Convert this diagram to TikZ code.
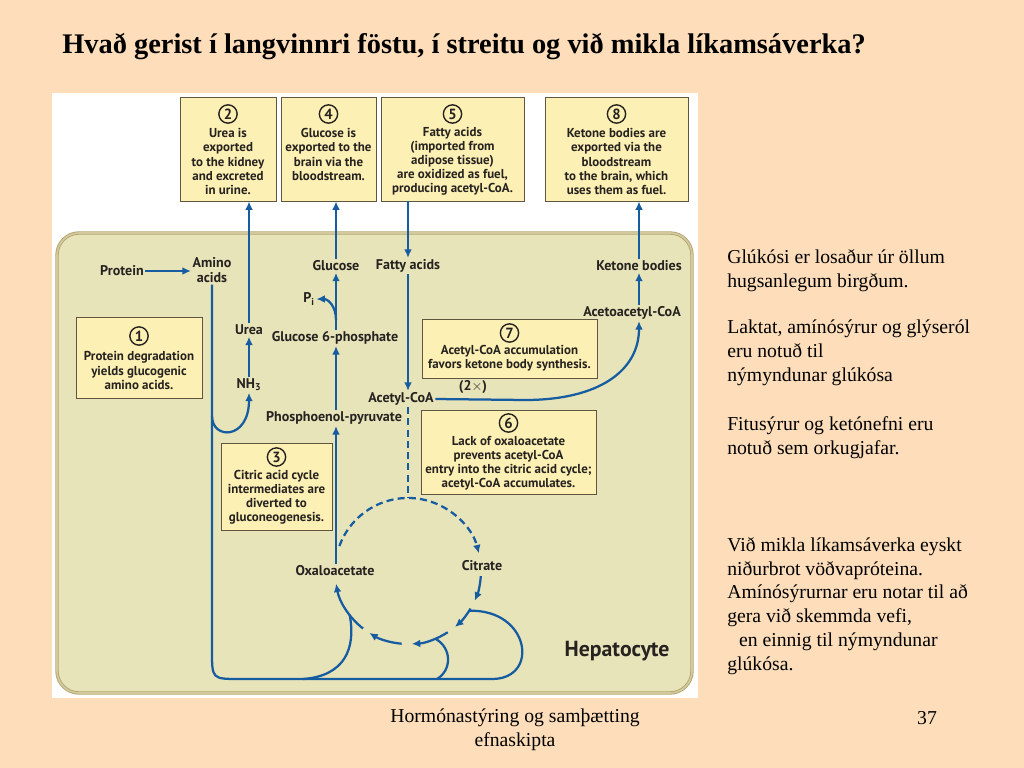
\documentclass[tikz,border=0pt]{standalone}
\usepackage{fontspec}
\setmainfont{Liberation Serif}
\newfontfamily\diafont{PT Sans}
\usetikzlibrary{arrows.meta,positioning,calc}
\definecolor{slidePeach}{RGB}{253,221,186}
\definecolor{cellFill}{RGB}{232,228,186}
\definecolor{cellEdge}{RGB}{178,163,112}
\definecolor{noteFill}{RGB}{253,240,180}
\definecolor{noteEdge}{RGB}{95,85,65}
\definecolor{pathBlue}{RGB}{22,92,160}
\definecolor{inkDark}{RGB}{38,34,32}

\tikzset{
  metab/.style={font=\diafont\bfseries\fontsize{10}{11}\selectfont, text=inkDark, inner sep=1pt, align=center},
  notebox/.style={draw=noteEdge, fill=noteFill, line width=0.6pt, inner sep=0pt},
  notetext/.style={font=\diafont\bfseries\fontsize{9.2}{10}\selectfont, text=inkDark, align=center, inner sep=0pt},
  stepnum/.style={draw=inkDark, circle, line width=1pt, inner sep=0pt, minimum size=13pt,
    font=\diafont\bfseries\fontsize{10.5}{11}\selectfont, text=inkDark},
  flow/.style={draw=pathBlue, line width=1.6pt, -{Latex[length=6pt,width=5.5pt]}},
  flowline/.style={draw=pathBlue, line width=1.6pt},
  slidetext/.style={font=\fontsize{14}{17}\selectfont, align=left, anchor=north west, inner sep=0pt},
}

\begin{document}
\begin{tikzpicture}[x=0.025cm,y=-0.025cm]
  \useasboundingbox (0,0) rectangle (1024,768);
  \fill[slidePeach] (0,0) rectangle (1024,768);
  \fill[white] (52,93) rectangle (698,698);

  \node[anchor=west, inner sep=0pt, font=\bfseries\fontsize{20.2}{22}\selectfont] (title) at (62,47)
    {Hvað gerist í langvinnri föstu, í streitu og við mikla líkamsáverka?};

  % the cell
  \node[draw=cellEdge, fill=cellFill, line width=0.6pt, double=cellFill!60!cellEdge, double distance=1.2pt,
    rounded corners=0.55cm, minimum width=635*0.025cm, minimum height=460*0.025cm] (cell) at (374.5,463) {};

  % numbered notes
  \node[notebox, minimum width=96*0.025cm, minimum height=104*0.025cm] (box2) at (228,149) {};
  \node[notebox, minimum width=95*0.025cm, minimum height=104*0.025cm] (box4) at (328.5,149) {};
  \node[notebox, minimum width=143*0.025cm, minimum height=104*0.025cm] (box5) at (452.5,149) {};
  \node[notebox, minimum width=143*0.025cm, minimum height=104*0.025cm] (box8) at (616.5,149) {};
  \node[notebox, minimum width=126*0.025cm, minimum height=81*0.025cm] (box1) at (139,357.5) {};
  \node[notebox, minimum width=175*0.025cm, minimum height=59*0.025cm] (box7) at (509.5,348.5) {};
  \node[notebox, minimum width=175*0.025cm, minimum height=84*0.025cm] (box6) at (508.5,452) {};
  \node[notebox, minimum width=111*0.025cm, minimum height=87*0.025cm] (box3) at (276.5,486.5) {};

  \node[stepnum] (num2) at (228,114) {2};
  \node[stepnum] (num4) at (328.5,114) {4};
  \node[stepnum] (num5) at (452.5,114) {5};
  \node[stepnum] (num8) at (616.5,114) {8};
  \node[stepnum] (num1) at (139,336) {1};
  \node[stepnum] (num7) at (509.5,333) {7};
  \node[stepnum] (num6) at (508.5,423) {6};
  \node[stepnum] (num3) at (276.5,457) {3};

  \node[notetext] (note2) at (228,161.5) {Urea is\\exported\\to the kidney\\and excreted\\in urine.};
  \node[notetext] (note4) at (328.5,154.5) {Glucose is\\exported to the\\brain via the\\bloodstream.};
  \node[notetext] (note5) at (452.5,161.5) {Fatty acids\\(imported from\\adipose tissue)\\are oxidized as fuel,\\producing acetyl-CoA.};
  \node[notetext] (note8) at (616.5,161.5) {Ketone bodies are\\exported via the\\bloodstream\\to the brain, which\\uses them as fuel.};
  \node[notetext] (note1) at (139,370.5) {Protein degradation\\yields glucogenic\\amino acids.};
  \node[notetext] (note7) at (509.5,358.5) {Acetyl-CoA accumulation\\favors ketone body synthesis.};
  \node[notetext] (note6) at (508.5,463) {Lack of oxaloacetate\\prevents acetyl-CoA\\entry into the citric acid cycle;\\acetyl-CoA accumulates.};
  \node[notetext] (note3) at (276.5,497.5) {Citric acid cycle\\intermediates are\\diverted to\\gluconeogenesis.};

  % metabolites
  \node[metab] (protein) at (122,271) {Protein};
  \node[metab] (amino) at (212,270) {Amino\\acids};
  \node[metab] (glucose) at (336,266) {Glucose};
  \node[metab] (fatty) at (408,266) {Fatty acids};
  \node[metab] (ketone) at (639,266) {Ketone bodies};
  \node[metab] (pi) at (309,299) {P\textsubscript{i}};
  \node[metab] (urea) at (249,330) {Urea};
  \node[metab] (g6p) at (335,338) {Glucose 6-phosphate};
  \node[metab] (acac) at (632,313) {Acetoacetyl-CoA};
  \node[metab] (nh3) at (249,385) {NH\textsubscript{3}};
  \node[metab] (twox) at (473,387) {(2$\times$)};
  \node[metab] (acetyl) at (401,399) {Acetyl-CoA};
  \node[metab] (pep) at (334,418) {Phosphoenol-pyruvate};
  \node[metab] (oxal) at (335,571) {Oxaloacetate};
  \node[metab] (citrate) at (482,566) {Citrate};
  \node[metab, font=\diafont\bfseries\fontsize{15.5}{17}\selectfont] (hepato) at (617,651) {Hepatocyte};

  \coordinate (cyc) at (408,571);
  \coordinate (split) at (212,416);
  \coordinate (piStart) at (336,320);
  \coordinate (branchA) at (303,679);
  \coordinate (branchB) at (437,679);
  \coordinate (loopIn) at ($(cyc)+(33:73)$);

  % arrows
  \draw[flow] (protein.east) -- (protein.east -| amino.west);
  \draw[flowline] (amino.south) -- (212,651) .. controls (212,679) .. (240,679) -- (492,679)
    .. controls (540,679) and (530,609) .. (loopIn);
  \draw[flowline] (branchA) .. controls (345,676) and (356,648) .. ($(cyc)+(143:73)$);
  \draw[flowline] (branchB) .. controls (452,670) and (452,648) .. ($(cyc)+(68:73)$);
  \draw[flow] (split) .. controls (212,440) and (249,440) .. (nh3.south);
  \draw[flow] (nh3.north) -- (urea.south);
  \draw[flow] (urea.north) -- (urea.north |- box2.south);
  \draw[flow] (pep.north -| glucose) -- (g6p.south -| glucose);
  \draw[flow] (g6p.north -| glucose) -- (glucose.south);
  \draw[flow] (piStart) .. controls (336,306) and (328,299) .. (pi.east);
  \draw[flow] (glucose.north) -- (glucose.north |- box4.south);
  \draw[flow] (box5.south -| fatty) -- (fatty.north);
  \draw[flow] (fatty.south) -- (fatty.south |- acetyl.north);
  \draw[flow] (acetyl.east) -- (525,400) .. controls (600,400) and (639,370) .. (acac.south -| ketone);
  \draw[flow] (acac.north -| ketone) -- (ketone.south);
  \draw[flow] (ketone.north) -- (ketone.north |- box8.south);
  \draw[flow] (oxal.north -| glucose) -- (pep.south -| glucose);

  % citric acid cycle
  \draw[flowline, dash pattern=on 5pt off 3pt] (acetyl.south -| cyc) -- ($(cyc)+(-90:73)$);
  \draw[flow, dash pattern=on 5pt off 3pt] ($(cyc)+(-160:73)$) arc[start angle=-160, end angle=-14, radius=73];
  \draw[flow] ($(cyc)+(4:73)$) arc[start angle=4, end angle=24, radius=73];
  \draw[flow] ($(cyc)+(31:73)$) arc[start angle=31, end angle=50, radius=73];
  \draw[flow] ($(cyc)+(57:73)$) arc[start angle=57, end angle=87, radius=73];
  \draw[flow] ($(cyc)+(95:73)$) arc[start angle=95, end angle=122, radius=73];
  \draw[flow] ($(cyc)+(128:73)$) arc[start angle=128, end angle=170, radius=73];

  % slide text
  \node[slidetext] (para1) at (727,249) {Glúkósi er losaður úr öllum\\hugsanlegum birgðum.};
  \node[slidetext] (para2) at (727,320) {Laktat, amínósýrur og glýseról\\eru notuð til\\nýmyndunar glúkósa};
  \node[slidetext] (para3) at (727,416) {Fitusýrur og ketónefni eru\\notuð sem orkugjafar.};
  \node[slidetext] (para4) at (727,537) {Við mikla líkamsáverka eyskt\\niðurbrot vöðvapróteina.\\Amínósýrurnar eru notar til að\\gera við skemmda vefi,\\\hspace*{0.6em}en einnig til nýmyndunar\\glúkósa.};
  \node[font=\fontsize{14}{17}\selectfont, align=center, inner sep=0pt] (footer) at (515,730) {Hormónastýring og samþætting\\efnaskipta};
  \node[font=\fontsize{14}{17}\selectfont, inner sep=0pt] (pagenum) at (927,718) {37};
\end{tikzpicture}
\end{document}
